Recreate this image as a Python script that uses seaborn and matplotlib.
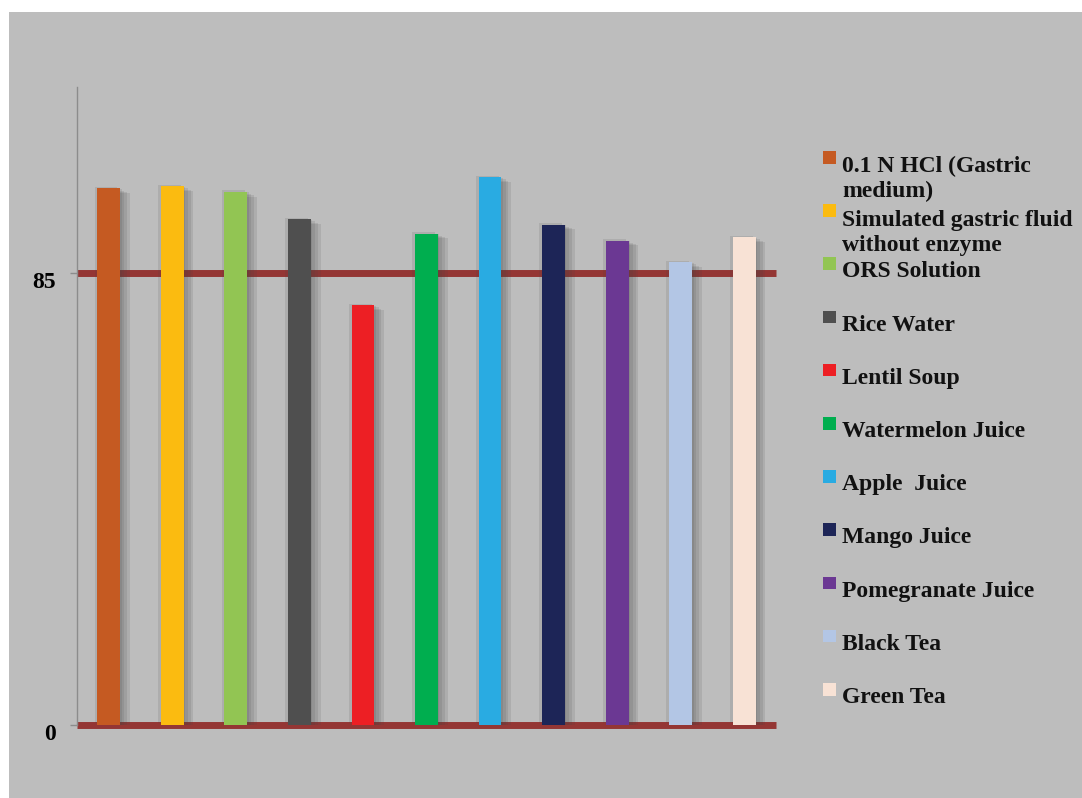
import matplotlib
matplotlib.use("Agg")
import matplotlib.pyplot as plt
import matplotlib.patheffects as pe
from matplotlib.patches import Rectangle
from matplotlib.transforms import ScaledTranslation
import seaborn as sns

categories = ["0.1 N HCl (Gastric\nmedium)", "Simulated gastric fluid\nwithout enzyme",
              "ORS Solution", "Rice Water", "Lentil Soup", "Watermelon Juice",
              "Apple  Juice", "Mango Juice", "Pomegranate Juice", "Black Tea", "Green Tea"]
values = [100.9, 101.3, 100.3, 95.1, 78.9, 92.4, 103.0, 94.1, 91.1, 87.0, 91.7]
colors = ["#c55a22", "#fbbb10", "#92c553", "#4f4f4f", "#ed1f24", "#00ae4f",
          "#29abe2", "#1d2557", "#6b3893", "#b3c6e5", "#f8e2d5"]
yticks = [0, 85]
ytick_labels = ["0", "85"]

W, H = 1082, 798
BG = "#bdbdbd"
GRID = "#943634"

sns.set_style("white")
plt.rcParams["font.family"] = ["Liberation Serif", "DejaVu Serif"]
plt.rcParams["font.weight"] = "bold"

fig = plt.figure(figsize=(W / 100, H / 100), dpi=100)
fig.patch.set_facecolor("white")
fig.add_artist(Rectangle((9 / W, 0), 1 - 9 / W, 1 - 12 / H, transform=fig.transFigure,
                         facecolor=BG, edgecolor="none", zorder=-10))

ax = fig.add_axes([77 / W, 1 - 724.5 / H, (776 - 77) / W, (724.5 - 87) / H])
ax.set_facecolor("none")

sns.barplot(x=list(range(len(values))), y=values, hue=list(range(len(values))),
            palette=colors, legend=False, width=0.36, saturation=1, ax=ax, zorder=3)
shadow = [pe.SimplePatchShadow(offset=(o, -o / 2), shadow_rgbFace="#444444", alpha=0.13)
          for o in (-2, 1, 3, 5, 7)]
for p in ax.patches:
    p.set_edgecolor("none")
    p.set_path_effects(shadow + [pe.Normal()])

for yv in yticks:
    ax.axhline(yv, color=GRID, linewidth=5, zorder=1, clip_on=False, solid_capstyle="butt")

ax.set_xlim(-0.5, len(values) - 0.5)
ax.set_ylim(0, 120)
ax.set_xticks([])
ax.set_xlabel("")
ax.set_ylabel("")
ax.set_yticks(yticks)
ax.set_yticklabels(ytick_labels, fontsize=17, fontweight="bold", color="black")
ax.tick_params(axis="y", left=True, length=5, width=1, color="#8c8c8c", pad=10)
for lab in ax.get_yticklabels():
    lab.set_transform(lab.get_transform() + ScaledTranslation(0, -0.07, fig.dpi_scale_trans))

for s in ["top", "right", "bottom"]:
    ax.spines[s].set_visible(False)
ax.spines["left"].set_color("#8c8c8c")
ax.spines["left"].set_linewidth(1)

# legend drawn manually with uniform spacing (text overflows downward as in the original)
for i, (lab, col) in enumerate(zip(categories, colors)):
    top = 151 + i * 53.2
    fig.add_artist(Rectangle((823 / W, 1 - (top + 12.5) / H), 12.5 / W, 12.5 / H,
                             transform=fig.transFigure, facecolor=col, edgecolor="none"))
    first = 21.5 if "\n" in lab else 20
    for k, line in enumerate(lab.split("\n")):
        fig.text(842 / W, 1 - (top + first + k * 25) / H, line, fontsize=17, fontweight="bold",
                 va="baseline", ha="left", color="#111111")

fig.savefig("out.png", dpi=100)
